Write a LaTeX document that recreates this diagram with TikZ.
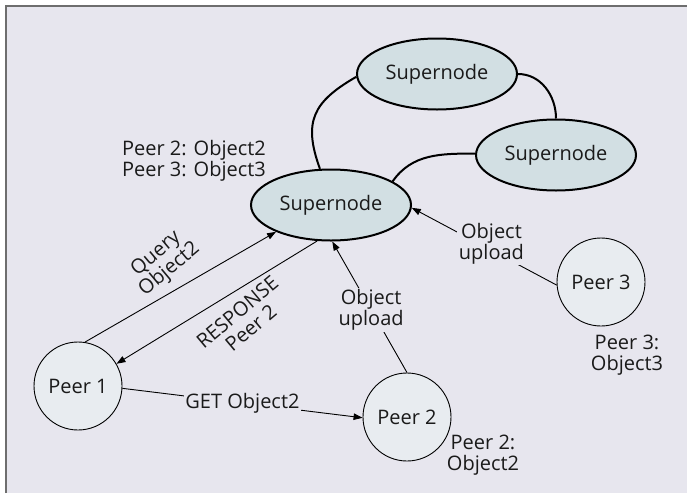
\documentclass[tikz,border=0pt]{standalone}
\usepackage{fontspec}
\setmainfont{Open Sans}
\usetikzlibrary{shapes.geometric,arrows.meta}
\definecolor{bgfill}{HTML}{E7E6EE}
\definecolor{framegray}{HTML}{6E6E6E}
\definecolor{superfill}{HTML}{D2DFE3}
\definecolor{peerfill}{HTML}{E8ECF0}
\definecolor{ink}{HTML}{1A1A1A}
\tikzset{
  supernode/.style={ellipse, draw=black, line width=2pt, fill=superfill,
    minimum width=160pt, minimum height=71pt, inner sep=0pt, text=ink},
  peer/.style={circle, draw=black, line width=0.9pt, fill=peerfill,
    minimum size=88pt, inner sep=0pt, text=ink},
  link/.style={line width=2pt},
  msg/.style={line width=0.9pt, -{Triangle[length=9pt,width=6.5pt]}},
  lbl/.style={align=center, fill=bgfill, inner sep=1.5pt, text=ink},
  note/.style={align=center, text=ink},
}
\begin{document}
\begin{tikzpicture}[x=1pt, y=1pt, font=\fontsize{20}{21}\selectfont]
  % canvas and frame
  \useasboundingbox (0,0) rectangle (687,-493);
  \fill[white] (0,0) rectangle (687,-493);
  \fill[bgfill] (5.5,-5.5) rectangle (687,-493);
  \draw[framegray, line width=2pt] (5.5,-493) -- (5.5,-5.5) -- (687,-5.5);

  % supernodes
  \node[supernode] (sTop)   at (437,-74)  {Supernode};
  \node[supernode] (sRight) at (556,-155) {Supernode};
  \node[supernode] (sMain)  at (331,-205) {Supernode};

  % peers
  \node[peer] (p1) at (78,-386)  {Peer 1};
  \node[peer] (p2) at (407,-417) {Peer 2};
  \node[peer] (p3) at (601,-282) {Peer 3};

  % supernode overlay links
  \draw[link] (sMain.107) to[out=110, in=210, looseness=1.3] (sTop.182);
  \draw[link] (sMain.21) to[out=55, in=180] (sRight.179);
  \draw[link] (sTop.0) to[out=0, in=90] (sRight.90);

  % messages
  \draw[msg] (p1.81) -- (sMain.206);
  \draw[msg] (sMain.249) -- (p1.30);
  \draw[msg] (p2.90) -- node[lbl, pos=0.48] (upMid) {Object\\upload} (sMain.272);
  \draw[msg] (p3.184) -- node[lbl, pos=0.45, yshift=7pt] (upRight) {Object\\upload} (sMain.358);
  \draw[msg] (p1.357) -- node[lbl, pos=0.5] (get) {GET Object2} (p2.181);

  % labels
  \node[note, rotate=40] (qry) at (163,-262) {Query\\Object2};
  \node[note, rotate=40] (rsp) at (244,-320) {RESPONSE\\Peer 2};
  \node[note, align=left] (idx) at (194,-161) {Peer 2: Object2\\Peer 3: Object3};
  \node[note] (st3) at (627,-355) {Peer 3:\\Object3};
  \node[note] (st2) at (483,-455) {Peer 2:\\Object2};
\end{tikzpicture}
\end{document}
